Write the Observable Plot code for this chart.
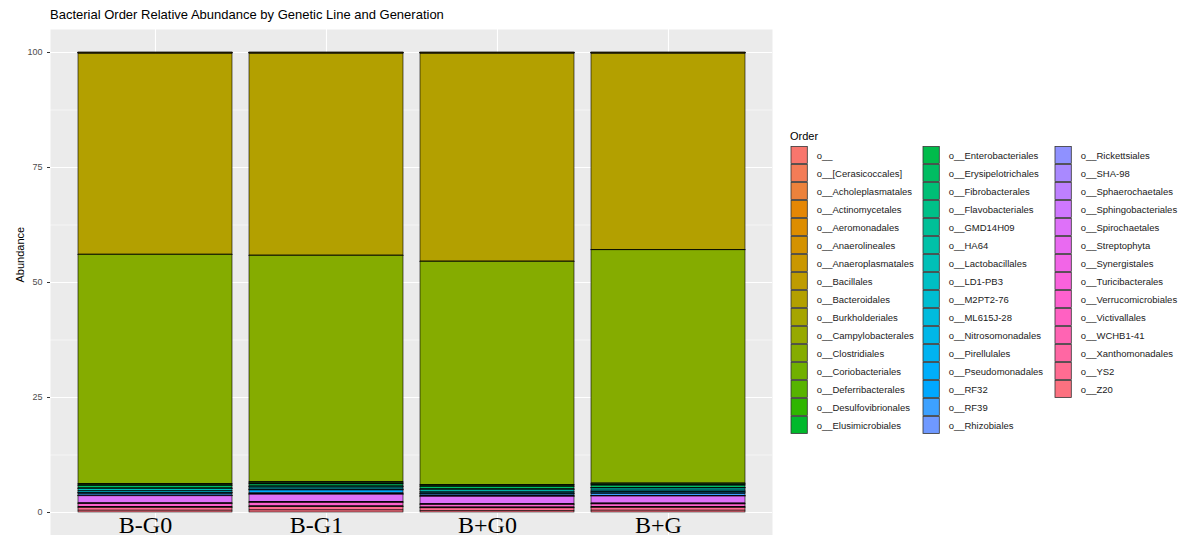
<!DOCTYPE html>
<html>
<head>
<meta charset="utf-8">
<script src="https://cdn.jsdelivr.net/npm/d3@7"></script>
<script src="https://cdn.jsdelivr.net/npm/@observablehq/plot@0.6"></script>
<style>
  body { margin: 0; background: #fff; }
  #wrap { position: relative; width: 1197px; height: 535px; overflow: hidden; background: #fff;
          font-family: "Liberation Sans", Arial, sans-serif; }
  #wrap > * { position: absolute; }
  #title { left: 50px; top: 8px; font-size: 13px; line-height: 13px; color: #000; white-space: nowrap; }
  #legend-title { left: 790px; top: 131px; font-size: 11px; line-height: 11px; color: #000; }
  #main { left: 0; top: 0; }
  #legend { left: 790px; top: 145px; }
</style>
</head>
<body>
<div id="wrap">
  <div id="main"></div>
  <div id="title">Bacterial Order Relative Abundance by Genetic Line and Generation</div>
  <div id="legend-title">Order</div>
  <div id="legend"></div>
</div>
<script>
// Genetic line / generation groups
const groups = ["B-G0", "B-G1", "B+G0", "B+G"];

// Bacterial orders (legend order; the first one sits on top of each stack)
const orders = [
  "o__", "o__[Cerasicoccales]", "o__Acholeplasmatales", "o__Actinomycetales",
  "o__Aeromonadales", "o__Anaerolineales", "o__Anaeroplasmatales", "o__Bacillales",
  "o__Bacteroidales", "o__Burkholderiales", "o__Campylobacterales", "o__Clostridiales",
  "o__Coriobacteriales", "o__Deferribacterales", "o__Desulfovibrionales", "o__Elusimicrobiales",
  "o__Enterobacteriales", "o__Erysipelotrichales", "o__Fibrobacterales", "o__Flavobacteriales",
  "o__GMD14H09", "o__HA64", "o__Lactobacillales", "o__LD1-PB3",
  "o__M2PT2-76", "o__ML615J-28", "o__Nitrosomonadales", "o__Pirellulales",
  "o__Pseudomonadales", "o__RF32", "o__RF39", "o__Rhizobiales",
  "o__Rickettsiales", "o__SHA-98", "o__Sphaerochaetales", "o__Sphingobacteriales",
  "o__Spirochaetales", "o__Streptophyta", "o__Synergistales", "o__Turicibacterales",
  "o__Verrucomicrobiales", "o__Victivallales", "o__WCHB1-41", "o__Xanthomonadales",
  "o__YS2", "o__Z20"
];

// Relative abundance (%) per order, same order as above
const abundBminusG0 = [
  0.05, 0.01, 0.01, 0.02, 0.01, 0.01, 0.04, 0.15,
  43.64, 0.05, 0.01, 49.78, 0.10, 0.05, 0.20, 0.05,
  0.10, 0.50, 0.02, 0.02, 0.02, 0.05, 0.50, 0.02,
  0.30, 0.02, 0.02, 0.02, 0.05, 0.20, 0.30, 0.05,
  0.05, 0.02, 0.02, 0.02, 1.50, 0.10, 0.02, 0.10,
  0.60, 0.10, 0.05, 0.05, 0.60, 0.40
];
const abundBminusG1 = [
  0.05, 0.01, 0.01, 0.02, 0.01, 0.01, 0.04, 0.15,
  43.85, 0.04, 0.01, 49.20, 0.10, 0.05, 0.20, 0.05,
  0.10, 0.45, 0.02, 0.02, 0.02, 0.05, 0.33, 0.02,
  0.30, 0.02, 0.02, 0.02, 0.05, 0.50, 0.25, 0.05,
  0.05, 0.02, 0.02, 0.02, 1.60, 0.10, 0.02, 0.10,
  0.70, 0.10, 0.05, 0.05, 0.70, 0.45
];
const abundBplusG0 = [
  0.05, 0.01, 0.01, 0.02, 0.01, 0.01, 0.04, 0.15,
  45.15, 0.04, 0.01, 48.48, 0.10, 0.05, 0.20, 0.05,
  0.10, 0.50, 0.02, 0.02, 0.02, 0.05, 0.40, 0.02,
  0.35, 0.02, 0.02, 0.02, 0.05, 0.15, 0.30, 0.05,
  0.05, 0.02, 0.02, 0.02, 1.60, 0.10, 0.02, 0.10,
  0.50, 0.10, 0.05, 0.05, 0.55, 0.35
];
const abundBplusG = [
  0.05, 0.01, 0.01, 0.02, 0.01, 0.01, 0.04, 0.15,
  42.65, 0.04, 0.01, 50.68, 0.10, 0.05, 0.20, 0.05,
  0.10, 0.50, 0.02, 0.02, 0.02, 0.05, 0.45, 0.02,
  0.35, 0.02, 0.02, 0.02, 0.05, 0.30, 0.35, 0.05,
  0.05, 0.02, 0.02, 0.02, 1.50, 0.10, 0.02, 0.10,
  0.55, 0.10, 0.05, 0.05, 0.60, 0.40
];

const yTicks = [0, 25, 50, 75, 100];
const yMinor = [12.5, 37.5, 62.5, 87.5];

const seriesByGroup = [abundBminusG0, abundBminusG1, abundBplusG0, abundBplusG];
const table = groups.flatMap((g, gi) =>
  orders.map((o, oi) => ({group: g, order: o, value: seriesByGroup[gi][oi]})));

// Evenly spaced hues in polar-LUV (the classic hue palette, l = 65, c = 100)
function hclHex(h, c, l) {
  const WY = 100, Wu = 0.1978398, Wv = 0.4683363;
  const hr = h * Math.PI / 180;
  const U = c * Math.cos(hr), V = c * Math.sin(hr);
  const Y = WY * (l > 7.999592 ? Math.pow((l + 16) / 116, 3) : l / 903.3);
  const u = U / (13 * l) + Wu, v = V / (13 * l) + Wv;
  const X = 9 * Y * u / (4 * v);
  const Z = -X / 3 - 5 * Y + 3 * Y / v;
  const g = t => t > 0.00304 ? 1.055 * Math.pow(t, 1 / 2.4) - 0.055 : 12.92 * t;
  const r = g(( 3.240479 * X - 1.537150 * Y - 0.498535 * Z) / WY);
  const gg = g((-0.969256 * X + 1.875992 * Y + 0.041556 * Z) / WY);
  const b = g(( 0.055648 * X - 0.204043 * Y + 1.057311 * Z) / WY);
  const to = t => Math.round(Math.max(0, Math.min(1, t)) * 255);
  return d3.rgb(to(r), to(gg), to(b)).formatHex();
}
const palette = orders.map((_, i) => hclHex((15 + i * 360 / orders.length) % 360, 100, 65));

const font = '"Liberation Sans", Arial, sans-serif';

const main = Plot.plot({
  width: 1197,
  height: 535,
  marginLeft: 50,
  marginRight: 425,
  marginTop: 29,
  marginBottom: 0,
  style: {fontFamily: font, background: "transparent", overflow: "visible"},
  x: {domain: groups, paddingInner: 0.1, paddingOuter: 0.15, axis: null},
  y: {domain: [-5, 105], axis: null},
  color: {domain: orders, range: palette},
  marks: [
    Plot.frame({fill: "#EBEBEB", stroke: null}),
    Plot.ruleY(yMinor, {stroke: "#fff", strokeWidth: 0.55}),
    Plot.ruleY(yTicks, {stroke: "#fff", strokeWidth: 1.1}),
    Plot.ruleX(groups, {x: d => d, stroke: "#fff", strokeWidth: 1.1}),
    Plot.barY(table, Plot.stackY({
      x: "group", y: "value", fill: "order",
      order: orders.slice().reverse(),
      stroke: "#000", strokeWidth: 0.6
    })),
    Plot.axisY(yTicks, {
      tickSize: 3, tickPadding: 5, fontSize: 9,
      stroke: "#333", fill: "#4D4D4D", label: null
    }),
    Plot.text(["Abundance"], {
      frameAnchor: "left", dx: -30, rotate: -90,
      fontSize: 11, fill: "#000"
    }),
    Plot.text(groups, {
      x: d => d, frameAnchor: "bottom", lineAnchor: "bottom",
      dy: -3, dx: -10, fontSize: 24,
      fontFamily: '"Liberation Serif", "Times New Roman", serif', fill: "#000"
    })
  ]
});
document.getElementById("main").append(main);

// Legend: three columns of keys, filled top to bottom
const perCol = 16;
const legendData = orders.map((o, i) => ({order: o, col: Math.floor(i / perCol), row: i % perCol}));
const colStep = 132.7, rowStep = 18.15;
const legend = Plot.plot({
  width: 3 * colStep,
  height: perCol * rowStep,
  margin: 0,
  style: {fontFamily: font, background: "transparent", overflow: "visible"},
  x: {type: "band", domain: [0, 1, 2], padding: 0, axis: null},
  y: {type: "band", domain: d3.range(perCol), padding: 0, axis: null},
  color: {domain: orders, range: palette},
  marks: [
    Plot.cell(legendData, {
      x: "col", y: "row", fill: "order",
      stroke: "#333", strokeWidth: 0.8,
      insetRight: colStep - 17, insetTop: 0.6, insetBottom: 0.6
    }),
    Plot.text(legendData, {
      x: "col", y: "row", text: "order",
      textAnchor: "start", dx: 25.5 - colStep / 2,
      fontSize: 9.5, fill: "#1A1A1A"
    })
  ]
});
document.getElementById("legend").append(legend);
</script>
</body>
</html>
